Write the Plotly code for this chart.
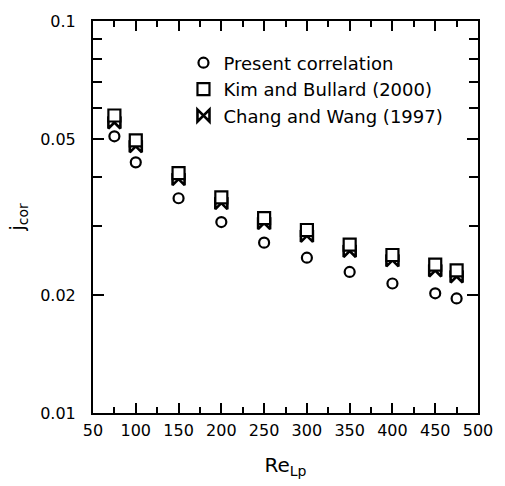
import plotly.graph_objects as go

# Data
re_lp = [75, 100, 150, 200, 250, 300, 350, 400, 450, 475]
present_corr = [0.0508, 0.0436, 0.0353, 0.0307, 0.0272, 0.0249, 0.0229, 0.0214, 0.0202, 0.0196]
kim_bullard = [0.0574, 0.0496, 0.0409, 0.0355, 0.0314, 0.0293, 0.0269, 0.0253, 0.0239, 0.0231]
chang_wang = [0.0551, 0.0479, 0.0395, 0.0343, 0.0305, 0.0283, 0.0259, 0.0245, 0.0231, 0.0223]

x_ticks = [50, 100, 150, 200, 250, 300, 350, 400, 450, 500]
y_ticks = [0.01, 0.02, 0.05, 0.1]
y_tick_text = ["0.01", "0.02", "0.05", "0.1"]
y_minor = [0.03, 0.04, 0.06, 0.07, 0.08, 0.09]

names = ["Present correlation", "Kim and Bullard (2000)", "Chang and Wang (1997)"]

fig = go.Figure()
fig.add_trace(go.Scatter(
    x=re_lp, y=present_corr, mode="markers", name=names[0], legendrank=1,
    marker=dict(symbol="circle-open", size=10, color="black", line=dict(width=2.2, color="black")),
))
fig.add_trace(go.Scatter(
    x=re_lp, y=chang_wang, mode="markers", name=names[2], legendrank=3,
    marker=dict(symbol="bowtie", size=12, color="white", line=dict(width=2.6, color="black")),
))
fig.add_trace(go.Scatter(
    x=re_lp, y=kim_bullard, mode="markers", name=names[1], legendrank=2,
    marker=dict(symbol="square", size=12, color="white", line=dict(width=2.2, color="black")),
))

tick_font = dict(family="DejaVu Sans", size=16, color="black")

fig.update_layout(
    width=505, height=486,
    margin=dict(l=93, r=17, t=19, b=73),
    paper_bgcolor="white", plot_bgcolor="white",
    showlegend=True,
    legend=dict(
        x=0.235, y=0.94, xanchor="left", yanchor="top",
        font=dict(family="DejaVu Sans", size=18, color="black"),
        bgcolor="rgba(0,0,0,0)", borderwidth=0,
        tracegroupgap=0, traceorder="normal",
    ),
    xaxis=dict(
        range=[50, 500], tickmode="array", tickvals=x_ticks,
        ticks="inside", ticklen=10, tickwidth=2, tickcolor="black",
        showline=True, linewidth=2, linecolor="black", mirror="ticks",
        showgrid=False, zeroline=False, tickfont=tick_font,
        ticklabelstandoff=2,
        minor=dict(dtick=25, tick0=50, ticks="inside", ticklen=6, tickwidth=2, tickcolor="black", showgrid=False),
        title=dict(text="Re<sub>Lp</sub>", font=dict(family="DejaVu Sans", size=20, color="black"), standoff=19),
    ),
    yaxis=dict(
        type="log", range=[-2, -1], tickmode="array", tickvals=y_ticks, ticktext=y_tick_text,
        ticks="inside", ticklen=11, tickwidth=2, tickcolor="black",
        showline=True, linewidth=2, linecolor="black", mirror="ticks",
        showgrid=False, zeroline=False, tickfont=tick_font,
        ticklabelstandoff=12,
        minor=dict(tickmode="array", tickvals=y_minor, ticks="inside", ticklen=9, tickwidth=2, tickcolor="black", showgrid=False),
        title=dict(text="j<sub>cor</sub>", font=dict(family="DejaVu Sans", size=20, color="black"), standoff=10),
    ),
)

fig.write_html("out.html")
